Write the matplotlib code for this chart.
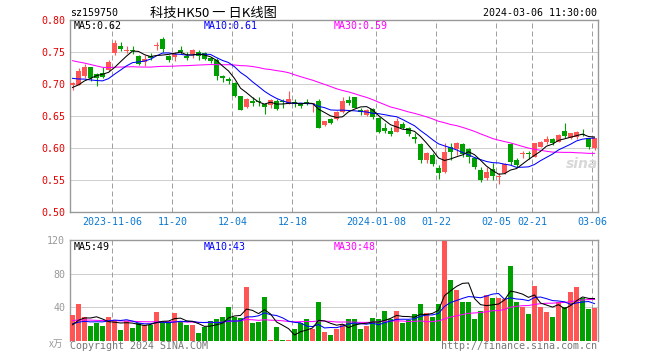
import numpy as np
import pandas as pd
import matplotlib
matplotlib.use("Agg")
import matplotlib.pyplot as plt

# daily candles, 88 trading days ending 2024-03-06
opens = [0.699, 0.699, 0.713, 0.7265, 0.715, 0.7165, 0.7225, 0.748, 0.7595, 0.752,
         0.753, 0.744, 0.735, 0.744, 0.760, 0.770, 0.744, 0.7425, 0.753, 0.743,
         0.7465, 0.7505, 0.7485, 0.7406, 0.737, 0.7118, 0.708, 0.702, 0.681, 0.6646,
         0.674, 0.6728, 0.668, 0.6667, 0.6734, 0.6728, 0.6693, 0.6714, 0.6698, 0.6714,
         0.6685, 0.6734, 0.636, 0.6448, 0.6448, 0.6568, 0.675, 0.6792, 0.6594, 0.6516,
         0.6604, 0.6474, 0.6307, 0.6266, 0.6255, 0.6375, 0.6307, 0.6177, 0.6057, 0.5812,
         0.589, 0.5693, 0.563, 0.602, 0.5984, 0.6057, 0.598, 0.5838, 0.5656, 0.5526,
         0.5667, 0.555, 0.5604, 0.6063, 0.5812, 0.591, 0.5922, 0.5865, 0.602, 0.6099,
         0.6135, 0.6099, 0.6271, 0.6156, 0.6172, 0.6219, 0.6151, 0.5995]
highs = [0.703, 0.7245, 0.731, 0.727, 0.717, 0.7265, 0.738, 0.769, 0.765, 0.7595,
         0.760, 0.745, 0.745, 0.748, 0.765, 0.774, 0.745, 0.7495, 0.7595, 0.7495,
         0.754, 0.753, 0.750, 0.742, 0.740, 0.7146, 0.711, 0.7026, 0.6815, 0.6786,
         0.679, 0.679, 0.670, 0.677, 0.677, 0.6765, 0.689, 0.6766, 0.671, 0.6766,
         0.6693, 0.6766, 0.642, 0.6464, 0.6583, 0.6792, 0.6813, 0.680, 0.662, 0.6604,
         0.662, 0.648, 0.6385, 0.6323, 0.6464, 0.6412, 0.6323, 0.624, 0.6073, 0.5932,
         0.5927, 0.5734, 0.6073, 0.6073, 0.6099, 0.6073, 0.5995, 0.5865, 0.5708, 0.5708,
         0.576, 0.5604, 0.576, 0.6073, 0.5838, 0.5953, 0.5958, 0.6083, 0.611, 0.6188,
         0.6151, 0.6219, 0.6385, 0.624, 0.6266, 0.6292, 0.6161, 0.6151]
lows = [0.690, 0.698, 0.710, 0.705, 0.6975, 0.709, 0.720, 0.746, 0.7515, 0.748,
        0.747, 0.730, 0.7285, 0.7375, 0.753, 0.7495, 0.735, 0.736, 0.7465, 0.7375,
        0.741, 0.738, 0.737, 0.733, 0.706, 0.703, 0.700, 0.680, 0.659, 0.663,
        0.6656, 0.6656, 0.6526, 0.663, 0.659, 0.663, 0.669, 0.6646, 0.662, 0.667,
        0.6568, 0.6307, 0.6344, 0.637, 0.6437, 0.655, 0.667, 0.662, 0.6516, 0.650,
        0.6448, 0.624, 0.624, 0.6193, 0.6245, 0.6292, 0.6187, 0.6073, 0.577, 0.577,
        0.5718, 0.551, 0.5614, 0.5812, 0.589, 0.5865, 0.576, 0.5667, 0.5474, 0.550,
        0.550, 0.5437, 0.5594, 0.5734, 0.5708, 0.5838, 0.5823, 0.5854, 0.601, 0.6063,
        0.6047, 0.6094, 0.6151, 0.614, 0.614, 0.6182, 0.598, 0.597]
closes = [0.701, 0.720, 0.7265, 0.709, 0.709, 0.7115, 0.735, 0.764, 0.7545, 0.753,
          0.751, 0.732, 0.7385, 0.740, 0.761, 0.7545, 0.7375, 0.7465, 0.7495, 0.740,
          0.7535, 0.744, 0.7396, 0.7354, 0.712, 0.710, 0.705, 0.681, 0.6594, 0.6766,
          0.671, 0.672, 0.6635, 0.675, 0.6614, 0.6718, 0.6766, 0.668, 0.666, 0.6687,
          0.669, 0.6318, 0.642, 0.6396, 0.6568, 0.6734, 0.6708, 0.663, 0.6568, 0.6594,
          0.649, 0.6255, 0.6266, 0.6214, 0.6427, 0.6307, 0.6214, 0.614, 0.5812, 0.5917,
          0.575, 0.5604, 0.5943, 0.5932, 0.6083, 0.590, 0.5854, 0.5708, 0.550, 0.562,
          0.5568, 0.556, 0.5745, 0.5786, 0.5734, 0.5925, 0.5912, 0.6073, 0.6099, 0.6135,
          0.6083, 0.6208, 0.6188, 0.6229, 0.6255, 0.6203, 0.6021, 0.6151]
volumes = [31, 44, 28.5, 17.7, 21.3, 17.7, 28.5, 25, 13, 23,
           15.3, 21, 18.5, 19, 34.5, 22.5, 22.5, 33, 22, 18.5,
           19, 9.3, 16.5, 23.7, 26.2, 28.5, 40.7, 28.2, 27, 64,
           20.5, 21.7, 51.8, 1.2, 16.5, 1.2, 1.2, 13.7, 21, 26,
           14, 46.6, 10.4, 6.8, 14.5, 20, 26, 26, 14, 18,
           27.3, 26, 35.7, 26, 35.7, 21.3, 25, 32, 44, 33.3,
           28.5, 44, 119, 72, 60, 46.6, 46.6, 26, 35.7, 54,
           51.4, 51.4, 50.2, 88.8, 46.6, 40.6, 32, 64.7, 40.6, 34.5,
           28.5, 46.6, 40.6, 58.6, 63.5, 51.4, 38, 39.4]

# closes and volumes before the visible window (feed the moving averages)
prior_closes = [0.781, 0.778, 0.776, 0.775, 0.775, 0.750, 0.748, 0.745, 0.745, 0.743,
                0.745, 0.742, 0.742, 0.740, 0.738, 0.737, 0.737, 0.735, 0.735, 0.738,
                0.730, 0.728, 0.722, 0.718, 0.717, 0.700, 0.695, 0.690, 0.687]
prior_volumes = [24, 28, 22, 30, 26, 25, 29, 23, 27, 26, 31, 24, 22, 28, 25, 27, 24, 26, 29, 24,
                 23, 19, 24, 20, 19, 17, 15, 18, 14]

date_idx = [7, 17, 27, 37, 51, 61, 71, 77, 87]
date_labels = ["2023-11-06", "11-20", "12-04", "12-18", "2024-01-08", "01-22", "02-05", "02-21", "03-06"]
price_ticks = [0.80, 0.75, 0.70, 0.65, 0.60, 0.55, 0.50]
vol_ticks = [40, 80, 120]

RED = "#ff5555"
GREEN = "#00a000"
GRID = "#a0a0a0"
FRAME = "#999999"
MONO = ["DejaVu Sans Mono"]
CJK = ["Noto Sans CJK SC", "DejaVu Sans"]

n = len(closes)
x = np.arange(n)
c_all = pd.Series(prior_closes + closes)
v_all = pd.Series(prior_volumes + volumes)
ma = {k: c_all.rolling(k).mean().values[-n:] for k in (5, 10, 30)}
vma = {k: v_all.rolling(k).mean().values[-n:] for k in (5, 10, 30)}

W, H = 660, 360
fig = plt.figure(figsize=(6.6, 3.6), dpi=100)
ax = fig.add_axes([70 / W, 1 - 212 / H, 528 / W, 192 / H])
ax2 = fig.add_axes([70 / W, 1 - 340.7 / H, 528 / W, 100.7 / H])

up = [c >= o for o, c in zip(opens, closes)]
colors = [RED if u else GREEN for u in up]
px = 0.30 / 192
body_lo = [min(o, c) for o, c in zip(opens, closes)]
body_h = [max(abs(c - o), px) for o, c in zip(opens, closes)]

for a in (ax, ax2):
    a.set_xlim(-0.42, n - 0.42)
    for s in a.spines.values():
        s.set_color(FRAME)
        s.set_linewidth(1.0)
    for d in date_idx:
        a.axvline(d - 0.37, color=GRID, lw=0.72, ls=(0, (5, 3)), zorder=0)

ax.set_ylim(0.50, 0.80)
for t in price_ticks[1:-1]:
    ax.axhline(t, color=GRID, lw=0.72, ls=(0, (1, 1)), zorder=0)
ax.vlines(x, lows, highs, colors=colors, lw=0.8, zorder=2)
ax.bar(x, body_h, bottom=body_lo, width=0.83, color=colors, zorder=3)
ax.plot(x, ma[30], color="#ff00ff", lw=0.75, zorder=4)
ax.plot(x, ma[10], color="#0000ff", lw=0.75, zorder=4)
ax.plot(x, ma[5], color="black", lw=0.75, zorder=4)
ax.set_yticks(price_ticks)
ax.set_yticklabels([f"{t:.2f}" for t in price_ticks], color="#e60000", family=MONO, fontsize=7.2)
ax.set_xticks([d - 0.37 for d in date_idx])
ax.set_xticklabels(date_labels, color="#0a78d2", family=MONO, fontsize=7.2)
ax.tick_params(length=0, pad=3.5)

ax2.set_ylim(0, 120)
ax2.spines["bottom"].set_visible(False)
for t in (40, 80):
    ax2.axhline(t, color=GRID, lw=0.72, ls=(0, (1, 1)), zorder=0)
ax2.bar(x, volumes, width=0.83, color=colors, zorder=3)
ax2.plot(x, vma[30], color="#ff00ff", lw=0.75, zorder=4)
ax2.plot(x, vma[10], color="#0000ff", lw=0.75, zorder=4)
ax2.plot(x, vma[5], color="black", lw=0.75, zorder=4)
ax2.set_yticks(vol_ticks)
ax2.set_yticklabels([str(t) for t in vol_ticks], color="#999999", family=MONO, fontsize=7.2)
ax2.set_xticks([])
ax2.tick_params(length=0, pad=3.5)


def ftext(px_x, px_y, s, **kw):
    fig.text(px_x / W, 1 - px_y / H, s, va="center", **kw)


ftext(70, 13, "sz159750", family=MONO, fontsize=7.2, color="black")
ftext(213.7, 13, "科技HK50 一 日K线图", family=CJK, fontsize=9.5, color="black", ha="center")
ftext(597, 13, "2024-03-06 11:30:00", family=MONO, fontsize=7.2, color="black", ha="right")

ftext(74, 26, "MA5:0.62", family=MONO, fontsize=7.2, color="black")
ftext(204, 26, "MA10:0.61", family=MONO, fontsize=7.2, color="#0000ff")
ftext(334, 26, "MA30:0.59", family=MONO, fontsize=7.2, color="#ff00ff")
ftext(74, 247, "MA5:49", family=MONO, fontsize=7.2, color="black")
ftext(204, 247, "MA10:43", family=MONO, fontsize=7.2, color="#0000ff")
ftext(334, 247, "MA30:48", family=MONO, fontsize=7.2, color="#ff00ff")

ftext(63, 344, "x万", family=CJK, fontsize=7, color="#999999", ha="right", style="italic")
ftext(70, 346, "Copyright 2024 SINA.COM", family=MONO, fontsize=7.2, color="#777777")
ftext(597, 346, "http://finance.sina.com.cn", family=MONO, fontsize=7.2, color="#777777", ha="right")
ftext(582, 164, "sina", family=["DejaVu Sans"], fontsize=10, color="#d8d8d8",
      ha="center", style="italic", weight="bold")

fig.savefig("out.png", dpi=100)
